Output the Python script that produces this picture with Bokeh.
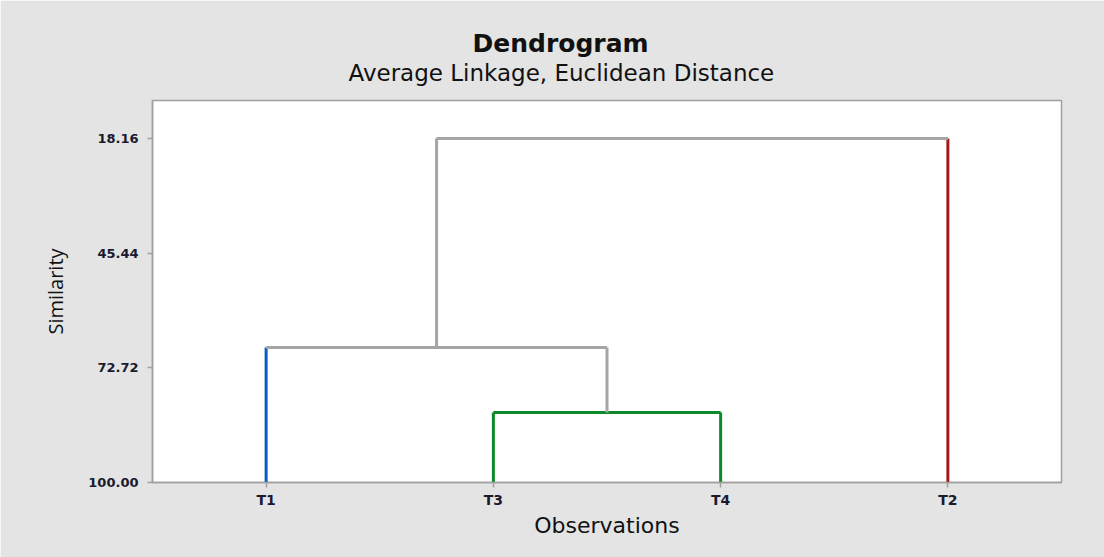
from bokeh.plotting import figure
from bokeh.models import Range1d, FixedTicker, Title, ColumnDataSource, NumeralTickFormatter
from bokeh.embed import file_html
from bokeh.resources import INLINE

# ---- data ----
observations = ["T1", "T3", "T4", "T2"]          # leaf order on the x axis
leaf_colors = ["#0a5cc2", "#0f8a2a", "#0f8a2a", "#a3191c"]
# merges (scipy-style ids: leaves 0..3, new clusters 4, 5, 6)
merge_a = [1, 0, 5]
merge_b = [2, 4, 3]
merge_sim = [83.33, 67.87, 18.16]
y_ticks = [18.16, 45.44, 72.72, 100.00]
link_gray = "#a5a5a5"

# ---- build dendrogram segments ----
pos = {i: i + 1.0 for i in range(len(observations))}
height = {i: 100.0 for i in range(len(observations))}
color = {i: c for i, c in enumerate(leaf_colors)}
x0, y0, x1, y1, cols = [], [], [], [], []
for k, (a, b, s) in enumerate(zip(merge_a, merge_b, merge_sim)):
    nid = len(observations) + k
    mcol = color[a] if color[a] == color[b] else link_gray
    for child in (a, b):
        ccol = color[child] if child < len(observations) else mcol
        x0.append(pos[child]); y0.append(height[child])
        x1.append(pos[child]); y1.append(s); cols.append(ccol)
    x0.append(pos[a]); y0.append(s); x1.append(pos[b]); y1.append(s); cols.append(mcol)
    pos[nid] = (pos[a] + pos[b]) / 2
    height[nid] = s
    color[nid] = mcol

src = ColumnDataSource(dict(x0=x0, y0=y0, x1=x1, y1=y1, c=cols))

p = figure(width=1104, height=557, output_backend="svg", toolbar_location=None,
           x_range=Range1d(0.5, 4.5), y_range=Range1d(100, 9.12),
           min_border_left=152, min_border_right=43, min_border_top=100, min_border_bottom=75)

p.segment("x0", "y0", "x1", "y1", source=src, line_color="c", line_width=3)

p.background_fill_color = "white"
p.border_fill_color = "#e4e4e4"
p.outline_line_color = "#a0a0a0"
p.outline_line_width = 1.5
p.xgrid.visible = False
p.ygrid.visible = False

font = "DejaVu Sans"
label_color = "#1a1a2e"

xa = p.xaxis[0]
xa.ticker = FixedTicker(ticks=[pos[i] for i in range(len(observations))])
xa.major_label_overrides = {pos[i]: n for i, n in enumerate(observations)}
xa.axis_label = "Observations"
ya = p.yaxis[0]
ya.ticker = FixedTicker(ticks=y_ticks)
ya.formatter = NumeralTickFormatter(format="0.00")
ya.axis_label = "Similarity"

for ax in (xa, ya):
    ax.axis_line_color = "#a0a0a0"
    ax.axis_line_width = 1.5
    ax.major_tick_line_color = "#a0a0a0"
    ax.major_tick_line_width = 1.5
    ax.major_tick_out = 5
    ax.major_tick_in = 0
    ax.minor_tick_line_color = None
    ax.major_label_text_font = font
    ax.major_label_text_color = label_color
    ax.axis_label_text_font_style = "normal"
    ax.axis_label_text_color = "#111111"
ya.major_label_text_font_size = "13px"
ya.major_label_text_font_style = "bold"
xa.major_label_text_font_size = "14px"
xa.major_label_text_font_style = "bold"
xa.axis_label_text_font = font
xa.axis_label_text_font_size = "22px"
ya.axis_label_text_font = "Open Sans"
ya.axis_label_text_font_size = "20px"
ya.axis_label_standoff = 16
ya.major_label_standoff = 9
xa.major_label_standoff = 4
xa.axis_label_standoff = 2

sub = Title(text="Average Linkage, Euclidean Distance", align="left", offset=196,
            text_font=font, text_font_size="23px", text_font_style="normal",
            text_color="#111111", standoff=29)
main = Title(text="Dendrogram", align="left", offset=320,
             text_font=font, text_font_size="25px", text_font_style="bold",
             text_color="#111111", standoff=-29)
p.add_layout(sub, "above")
p.add_layout(main, "above")

open("out.html", "w").write(file_html(p, INLINE))
